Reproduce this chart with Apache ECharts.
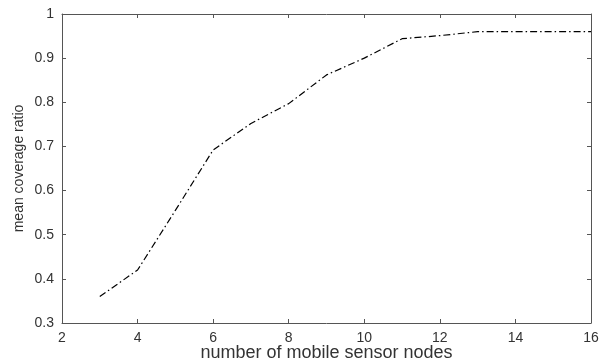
<!DOCTYPE html>
<html>
<head>
<meta charset="utf-8">
<script src="https://cdn.jsdelivr.net/npm/echarts@6/dist/echarts.min.js"></script>
<style>
  html, body { margin: 0; padding: 0; background: #fff; }
  #chart { width: 600px; height: 361px; }
</style>
</head>
<body>
<div id="chart"></div>
<script>
// Number of mobile sensor nodes
const nodes = [3, 4, 5, 6, 7, 8, 9, 10, 11, 12, 13, 14, 15, 16];
// Mean coverage ratio for each node count
const coverage = [0.36, 0.42, 0.555, 0.692, 0.752, 0.797, 0.862, 0.900, 0.944, 0.951, 0.960, 0.960, 0.960, 0.960];

const xTitle = 'number of mobile sensor nodes';
const yTitle = 'mean coverage ratio';

const frameColor = '#555';
const textColor = '#333';
const font = 'Liberation Sans, Arial, sans-serif';

const chart = echarts.init(document.getElementById('chart'), null, { renderer: 'canvas' });

const boxAxis = {
  axisLine: { show: true, lineStyle: { color: frameColor, width: 1 } },
  axisTick: { show: true, inside: true, length: 4, lineStyle: { color: frameColor } },
  splitLine: { show: false }
};

chart.setOption({
  animation: false,
  backgroundColor: '#fff',
  grid: { left: 62, right: 9, top: 14, bottom: 38, containLabel: false, outerBoundsMode: 'none' },
  xAxis: [
    Object.assign({
      type: 'value', min: 2, max: 16, interval: 2, position: 'bottom',
      name: xTitle, nameLocation: 'middle', nameGap: 21, nameMoveOverlap: false,
      nameTextStyle: { color: textColor, fontSize: 18, fontFamily: font, lineHeight: 18 },
      axisLabel: { color: textColor, fontSize: 14, fontFamily: font, margin: 8 }
    }, boxAxis),
    Object.assign({
      type: 'value', min: 2, max: 16, interval: 2, position: 'top',
      axisLabel: { show: false }
    }, boxAxis)
  ],
  yAxis: [
    Object.assign({
      type: 'value', min: 0.3, max: 1, interval: 0.1, position: 'left',
      name: yTitle, nameLocation: 'middle', nameGap: 36, nameMoveOverlap: false,
      nameTextStyle: { color: textColor, fontSize: 14, fontFamily: font },
      axisLabel: {
        color: textColor, fontSize: 14, fontFamily: font, margin: 8,
        formatter: v => String(Math.round(v * 10) / 10)
      }
    }, boxAxis),
    Object.assign({
      type: 'value', min: 0.3, max: 1, interval: 0.1, position: 'right',
      axisLabel: { show: false }
    }, boxAxis)
  ],
  series: [{
    type: 'line',
    xAxisIndex: 0,
    yAxisIndex: 0,
    data: nodes.map((n, i) => [n, coverage[i]]),
    showSymbol: false,
    symbol: 'none',
    lineStyle: { color: '#000', width: 1.2, type: [7, 3, 1.5, 3] }
  }]
});
</script>
</body>
</html>
